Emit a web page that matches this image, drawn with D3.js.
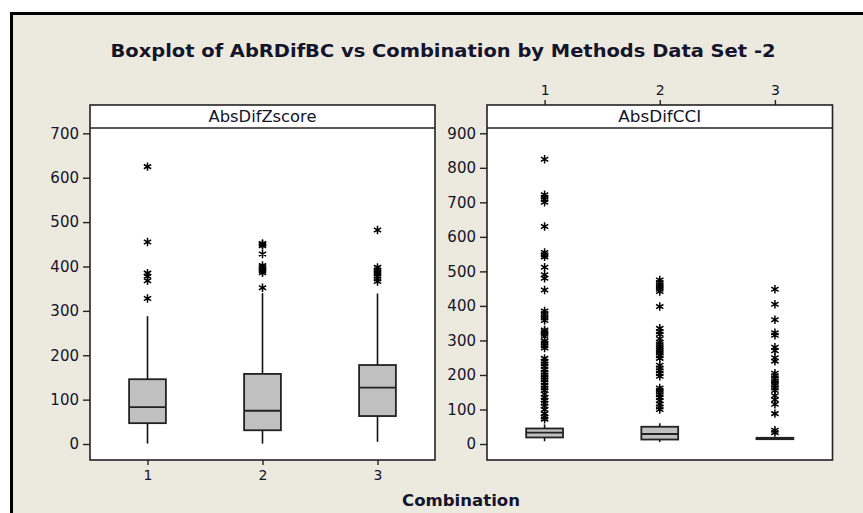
<!DOCTYPE html>
<html>
<head>
<meta charset="utf-8">
<script src="https://cdn.jsdelivr.net/npm/d3@7"></script>
<style>
  body { margin: 0; background: #fff; }
  text { font-family: "DejaVu Sans", Verdana, sans-serif; fill: #14142a; }
</style>
</head>
<body>
<div id="chart"></div>
<script>
// ---- data ----
const categories = [1, 2, 3];
const panelNames = ["AbsDifZscore", "AbsDifCCI"];

// box stats per combination: [whiskerLow, q1, median, q3, whiskerHigh]
const zscoreBoxes = [
  [1, 47, 83, 146, 288],
  [1, 31, 75, 158, 340],
  [5, 63, 127, 178, 339],
];
const cciBoxes = [
  [8, 19, 33, 45, 57],
  [6, 13, 29, 50, 60],
  [12, 14, 16, 18, 20],
];

const zscoreOutliers = [
  [625, 455, 385, 378, 368, 328],
  [452, 450, 447, 428, 402, 398, 394, 390, 386, 352],
  [482, 398, 392, 387, 383, 378, 372, 366],
];
const cciOutliers = [
  [825, 722, 715, 708, 700, 630, 555, 548, 542, 512, 490, 480, 446, 385, 378, 372, 365, 358,
   330, 325, 318, 312, 298, 292, 285, 278, 248, 240, 232, 225, 215, 208, 200, 193, 186, 178,
   170, 162, 155, 145, 135, 127, 118, 110, 100, 88, 78, 72],
  [475, 468, 461, 455, 448, 442, 398, 335, 325, 318, 305, 295, 288, 282, 276, 270, 264, 256,
   248, 228, 220, 212, 204, 196, 162, 156, 150, 143, 135, 125, 116, 107, 100],
  [448, 405, 360, 322, 315, 280, 270, 250, 240, 205, 198, 190, 183, 176, 170, 162, 155, 140,
   128, 115, 88, 40, 33],
];

const zscoreTicks = d3.range(0, 701, 100);
const cciTicks = d3.range(0, 901, 100);

// ---- layout ----
const W = 863, H = 513;
const plotTop = 128, plotBottom = 460, stripTop = 105;

const svg = d3.select("#chart")
  .append("svg")
  .attr("width", W)
  .attr("height", H);

// beige graph window with the thick black frame on top/left
svg.append("rect")
  .attr("x", 11).attr("y", 13)
  .attr("width", W).attr("height", H)
  .attr("fill", "#ECE9DF");
svg.append("path")
  .attr("d", `M11.5,${H} V13.5 H${W}`)
  .attr("fill", "none")
  .attr("stroke", "#000")
  .attr("stroke-width", 3);

svg.append("text")
  .attr("x", 443).attr("y", 57)
  .attr("text-anchor", "middle")
  .attr("font-size", 18)
  .attr("font-weight", "bold")
  .attr("textLength", 665)
  .attr("lengthAdjust", "spacingAndGlyphs")
  .text("Boxplot of AbRDifBC vs Combination by Methods Data Set -2");

const panels = [
  { name: panelNames[0], nameW: 108, boxes: zscoreBoxes, outliers: zscoreOutliers, ticks: zscoreTicks,
    x0: 90, x1: 435, yDomain: [-36, 712], bottomAxis: true },
  { name: panelNames[1], nameW: 83, boxes: cciBoxes, outliers: cciOutliers, ticks: cciTicks,
    x0: 487, x1: 832.5, yDomain: [-46.3, 915.3], bottomAxis: false },
];

const star = d3.symbol().type(d3.symbolAsterisk).size(50);
const boxW = 0.32;

panels.forEach(p => {
  const x = d3.scaleLinear().domain([0.5, 3.5]).range([p.x0, p.x1]);
  const y = d3.scaleLinear().domain(p.yDomain).range([plotBottom, plotTop]);
  const g = svg.append("g");

  // plot area + strip
  g.append("rect")
    .attr("x", p.x0).attr("y", stripTop)
    .attr("width", p.x1 - p.x0).attr("height", plotBottom - stripTop)
    .attr("fill", "#fff")
    .attr("stroke", "#222").attr("stroke-width", 1.6);
  g.append("line")
    .attr("x1", p.x0).attr("x2", p.x1)
    .attr("y1", plotTop).attr("y2", plotTop)
    .attr("stroke", "#222").attr("stroke-width", 1.6);
  g.append("text")
    .attr("x", (p.x0 + p.x1) / 2).attr("y", plotTop - 6)
    .attr("text-anchor", "middle")
    .attr("font-size", 15)
    .attr("textLength", p.nameW)
    .attr("lengthAdjust", "spacingAndGlyphs")
    .text(p.name);

  // y axis
  const yAxis = g.append("g")
    .attr("transform", `translate(${p.x0},0)`)
    .call(d3.axisLeft(y).tickValues(p.ticks).tickSize(7).tickPadding(4).tickFormat(d3.format("d")));
  yAxis.select(".domain").remove();
  yAxis.selectAll("line").attr("stroke", "#222").attr("stroke-width", 1.4);
  yAxis.selectAll("text").attr("font-size", 15).attr("font-family", "DejaVu Sans").attr("fill", "#14142a");

  // x axis, bottom on the left panel, top on the right panel
  const xAxis = g.append("g")
    .attr("transform", `translate(0,${p.bottomAxis ? plotBottom : stripTop})`)
    .call((p.bottomAxis ? d3.axisBottom(x) : d3.axisTop(x))
      .tickValues(categories).tickSize(5).tickPadding(5).tickFormat(d3.format("d")));
  xAxis.select(".domain").remove();
  xAxis.selectAll("line").attr("stroke", "#222").attr("stroke-width", 1.4);
  xAxis.selectAll("text").attr("font-size", 14).attr("font-family", "DejaVu Sans").attr("fill", "#14142a");

  // boxes
  const bx = g.selectAll("g.box")
    .data(p.boxes)
    .join("g")
    .attr("class", "box");

  bx.append("line")
    .attr("x1", (d, i) => x(categories[i])).attr("x2", (d, i) => x(categories[i]))
    .attr("y1", d => y(d[0])).attr("y2", d => y(d[1]))
    .attr("stroke", "#111").attr("stroke-width", 1.6);
  bx.append("line")
    .attr("x1", (d, i) => x(categories[i])).attr("x2", (d, i) => x(categories[i]))
    .attr("y1", d => y(d[3])).attr("y2", d => y(d[4]))
    .attr("stroke", "#111").attr("stroke-width", 1.6);
  bx.append("rect")
    .attr("x", (d, i) => x(categories[i] - boxW / 2))
    .attr("width", x(boxW) - x(0))
    .attr("y", d => y(d[3]))
    .attr("height", d => Math.max(y(d[1]) - y(d[3]), 1))
    .attr("fill", "#C0C0C0")
    .attr("stroke", "#222").attr("stroke-width", 1.8);
  bx.append("line")
    .attr("x1", (d, i) => x(categories[i] - boxW / 2)).attr("x2", (d, i) => x(categories[i] + boxW / 2))
    .attr("y1", d => y(d[2])).attr("y2", d => y(d[2]))
    .attr("stroke", "#222").attr("stroke-width", 1.8);

  // outliers as asterisks
  const pts = p.outliers.flatMap((vals, i) => vals.map(v => ({ c: categories[i], v })));
  g.selectAll("path.out")
    .data(pts)
    .join("path")
    .attr("class", "out")
    .attr("d", star)
    .attr("transform", d => `translate(${x(d.c)},${y(d.v)})`)
    .attr("fill", "none")
    .attr("stroke", "#000")
    .attr("stroke-width", 1.5);
});

svg.append("text")
  .attr("x", 461).attr("y", 506)
  .attr("text-anchor", "middle")
  .attr("font-size", 16)
  .attr("font-weight", "bold")
  .attr("textLength", 118)
  .attr("lengthAdjust", "spacingAndGlyphs")
  .text("Combination");
</script>
</body>
</html>
